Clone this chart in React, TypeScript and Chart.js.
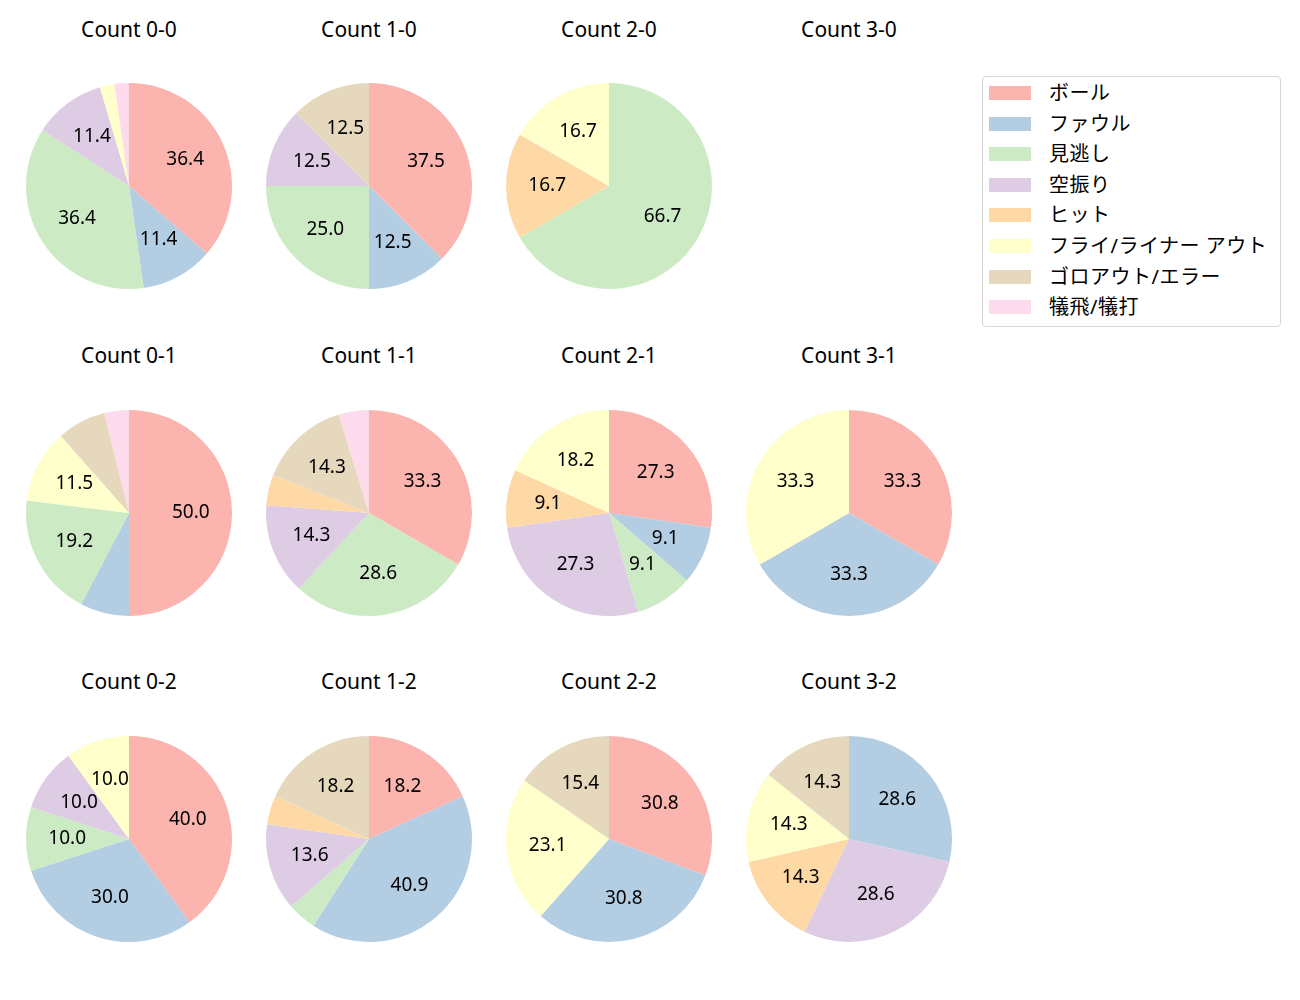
import React, { useEffect, useRef } from "react";
import { Chart, registerables } from "chart.js";

Chart.register(...registerables);

const categories = [
  "ボール",
  "ファウル",
  "見逃し",
  "空振り",
  "ヒット",
  "フライ/ライナー アウト",
  "ゴロアウト/エラー",
  "犠飛/犠打",
];

const colors = [
  "#fbb4ae",
  "#b3cde3",
  "#ccebc5",
  "#decbe4",
  "#fed9a6",
  "#ffffcc",
  "#e5d8bd",
  "#fddaec",
];

const countTitles = [
  ["Count 0-0", "Count 1-0", "Count 2-0", "Count 3-0"],
  ["Count 0-1", "Count 1-1", "Count 2-1", "Count 3-1"],
  ["Count 0-2", "Count 1-2", "Count 2-2", "Count 3-2"],
];

// counts per category (order as in `categories`)
const count00 = [16, 5, 16, 5, 0, 1, 0, 1];
const count10 = [3, 1, 2, 1, 0, 0, 1, 0];
const count20 = [0, 0, 4, 0, 1, 1, 0, 0];
const count30: number[] = [];
const count01 = [13, 2, 5, 0, 0, 3, 2, 1];
const count11 = [7, 0, 6, 3, 1, 0, 3, 1];
const count21 = [3, 1, 1, 3, 1, 2, 0, 0];
const count31 = [1, 1, 0, 0, 0, 1, 0, 0];
const count02 = [4, 3, 1, 1, 0, 1, 0, 0];
const count12 = [4, 9, 1, 3, 1, 0, 4, 0];
const count22 = [4, 4, 0, 0, 0, 3, 2, 0];
const count32 = [0, 2, 0, 2, 1, 1, 1, 0];

const grid = [
  [count00, count10, count20, count30],
  [count01, count11, count21, count31],
  [count02, count12, count22, count32],
];

const FONT = '"Noto Sans", "Noto Sans CJK JP", sans-serif';
const colX = [129, 369, 609, 849];
const rowY = [186, 512.5, 838.5];
const titleY = [29, 355, 681];
const R = 103;
const PAD = 6;

const pctLabelPlugin = {
  id: "pctLabels",
  afterDatasetsDraw(chart: any) {
    const ctx = chart.ctx;
    const meta = chart.getDatasetMeta(0);
    const data = chart.data.datasets[0].data as number[];
    const total = data.reduce((a: number, b: number) => a + b, 0);
    ctx.save();
    ctx.font = `19px ${FONT}`;
    ctx.fillStyle = "#000";
    ctx.textAlign = "center";
    ctx.textBaseline = "alphabetic";
    meta.data.forEach((arc: any, i: number) => {
      const pct = (data[i] / total) * 100;
      if (pct <= 8) return;
      const p = arc.getProps(["x", "y", "startAngle", "endAngle", "outerRadius"], true);
      const mid = (p.startAngle + p.endAngle) / 2;
      const r = p.outerRadius * 0.6;
      const txt = pct.toFixed(1);
      const m = ctx.measureText(txt);
      const asc = m.actualBoundingBoxAscent;
      ctx.fillText(txt, p.x + Math.cos(mid) * r, p.y + Math.sin(mid) * r + asc / 2 - 2);
    });
    ctx.restore();
  },
};

function Pie({ values, cx, cy }: { values: number[]; cx: number; cy: number }) {
  const ref = useRef<HTMLCanvasElement>(null);
  useEffect(() => {
    if (!ref.current) return;
    const chart = new Chart(ref.current, {
      type: "pie",
      data: {
        labels: categories,
        datasets: [
          {
            data: values,
            backgroundColor: colors,
            borderWidth: 0,
          },
        ],
      },
      options: {
        responsive: false,
        animation: false,
        layout: { padding: PAD },
        plugins: { legend: { display: false }, tooltip: { enabled: false } },
      },
      plugins: [pctLabelPlugin],
    });
    return () => chart.destroy();
  }, [values]);
  const size = 2 * R + 2 * PAD;
  return (
    <canvas
      ref={ref}
      width={size}
      height={size}
      style={{ position: "absolute", left: cx - size / 2, top: cy - size / 2, width: size, height: size }}
    />
  );
}

export default function App() {
  const items: React.ReactNode[] = [];
  grid.forEach((row, ri) =>
    row.forEach((vals, ci) => {
      items.push(
        <div
          key={`t${ri}${ci}`}
          style={{
            position: "absolute",
            left: colX[ci] - 100,
            width: 200,
            top: titleY[ri] - 15,
            height: 30,
            lineHeight: "30px",
            textAlign: "center",
            fontFamily: FONT,
            fontSize: 21,
            color: "#000",
          }}
        >
          {countTitles[ri][ci]}
        </div>
      );
      if (vals.length > 0) {
        items.push(<Pie key={`p${ri}${ci}`} values={vals} cx={colX[ci]} cy={rowY[ri]} />);
      }
    })
  );
  return (
    <div style={{ position: "absolute", left: 0, top: 0, width: 1300, height: 1000, background: "#fff" }}>
      {items}
      <div
        style={{
          position: "absolute",
          left: 982,
          top: 76,
          width: 297,
          height: 249,
          border: "1px solid #d6d6d6",
          borderRadius: 4,
          boxSizing: "content-box",
        }}
      >
        {categories.map((c, i) => (
          <div
            key={c}
            style={{ position: "absolute", left: 0, top: 5 + i * 30.6, height: 22, width: 297 }}
          >
            <div
              style={{
                position: "absolute",
                left: 6,
                top: 4,
                width: 42,
                height: 14,
                background: colors[i],
              }}
            />
            <div
              style={{
                position: "absolute",
                left: 66,
                top: 0,
                height: 22,
                lineHeight: "22px",
                fontFamily: FONT,
                fontSize: 20,
                letterSpacing: "0.5px",
                color: "#000",
                whiteSpace: "nowrap",
              }}
            >
              {c}
            </div>
          </div>
        ))}
      </div>
    </div>
  );
}
